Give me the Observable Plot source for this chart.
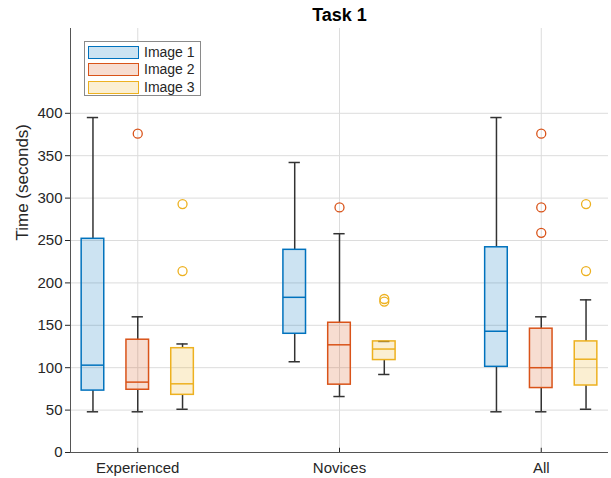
<!DOCTYPE html>
<html>
<head>
<meta charset="utf-8">
<script src="https://cdn.jsdelivr.net/npm/d3@7"></script>
<script src="https://cdn.jsdelivr.net/npm/@observablehq/plot@0.6"></script>
<style>
  html, body { margin: 0; padding: 0; background: #fff; }
  #wrap { position: relative; width: 611px; height: 478px; font-family: "Liberation Sans", Arial, sans-serif; }
  #legend { position: absolute; left: 84px; top: 41px; width: 117px; height: 55px; border: 1px solid #8a8a8a; background: #fff; box-sizing: border-box; }
  .row { position: absolute; left: 3px; height: 14px; }
  .sw { position: absolute; left: 0; top: 0; width: 49px; height: 11px; border: 1.5px solid; }
  .lb { position: absolute; left: 56px; top: -2px; font-size: 14px; color: #262626; white-space: nowrap; }
</style>
</head>
<body>
<div id="wrap"><div id="chart"></div><div id="legend"></div></div>
<script>
const groups = ["Experienced", "Novices", "All"];
const series = ["Image 1", "Image 2", "Image 3"];
const colors = ["#0072BD", "#D95319", "#EDB120"];
// values per series (rows) and group (columns)
const whiskerLow  = [[48, 107, 48], [48, 66, 48], [51, 92, 51]];
const q1          = [[73, 140, 101], [74, 80, 76], [68, 109, 79]];
const median      = [[103, 183, 143], [83, 127, 100], [81, 122, 110]];
const q3          = [[252, 239, 242], [133, 153, 146], [123, 131, 131]];
const whiskerHigh = [[395, 342, 395], [160, 258, 160], [128, 131, 180]];
const outliers    = [[[], [], []], [[376], [289], [376, 289, 259]], [[293, 214], [178, 181], [293, 214]]];
const yTicks = [0, 50, 100, 150, 200, 250, 300, 350, 400];

const offset = 0.222, halfBox = 0.056, halfCap = 0.028;
const boxes = [];
const outs = [];
series.forEach((s, si) => {
  groups.forEach((g, gi) => {
    const x = gi + 1 + (si - 1) * offset;
    boxes.push({s, x, lo: whiskerLow[si][gi], q1: q1[si][gi], med: median[si][gi], q3: q3[si][gi], hi: whiskerHigh[si][gi]});
    outliers[si][gi].forEach(v => outs.push({s, x, v}));
  });
});

const color = {domain: series, range: colors};
const axisCol = "#262626";

const chart = Plot.plot({
  width: 611,
  height: 478,
  marginTop: 28,
  marginBottom: 26,
  marginLeft: 70,
  marginRight: 3,
  style: {fontFamily: "Liberation Sans, Arial, sans-serif", fontSize: "15px", color: axisCol, background: "#fff"},
  x: {domain: [2 / 3, 10 / 3], axis: null},
  y: {domain: [0, 500], axis: null},
  color,
  marks: [
    Plot.ruleY(yTicks, {stroke: "#dcdcdc", strokeWidth: 1}),
    Plot.ruleX([1, 2, 3], {y1: 0, y2: 500, stroke: "#dcdcdc", strokeWidth: 1}),
    Plot.axisY({ticks: yTicks, tickSize: 5, tickPadding: 3, label: null, stroke: axisCol, fontSize: 15}),
    Plot.axisX({ticks: [1, 2, 3], tickFormat: d => groups[d - 1], tickSize: 0, tickPadding: 10, label: null, fontSize: 15}),
    Plot.ruleX([1, 2, 3], {y1: 0, y2: 5, stroke: axisCol, strokeWidth: 1}),
    Plot.ruleX([2 / 3], {y1: 0, y2: 500, stroke: "#555", strokeWidth: 1}),
    Plot.ruleY([0], {stroke: "#555", strokeWidth: 1}),
    Plot.ruleX(boxes, {x: "x", y1: "lo", y2: "q1", stroke: "#333", strokeWidth: 1.5}),
    Plot.ruleX(boxes, {x: "x", y1: "q3", y2: "hi", stroke: "#333", strokeWidth: 1.5}),
    Plot.ruleY(boxes, {y: "lo", x1: d => d.x - halfCap, x2: d => d.x + halfCap, stroke: "#333", strokeWidth: 1.5}),
    Plot.ruleY(boxes, {y: "hi", x1: d => d.x - halfCap, x2: d => d.x + halfCap, stroke: "#333", strokeWidth: 1.5}),
    Plot.rect(boxes, {x1: d => d.x - halfBox, x2: d => d.x + halfBox, y1: "q1", y2: "q3", fill: "s", fillOpacity: 0.2, stroke: "s", strokeWidth: 1.5}),
    Plot.ruleY(boxes, {y: "med", x1: d => d.x - halfBox, x2: d => d.x + halfBox, stroke: "s", strokeWidth: 1.5}),
    Plot.dot(outs, {x: "x", y: "v", r: 4.5, stroke: "s", fill: "none", strokeWidth: 1.3}),
    Plot.text(["Task 1"], {frameAnchor: "top", dy: -20, fontSize: 18, fontWeight: "bold", fill: "#000", lineAnchor: "top"}),
    Plot.text(["Time (seconds)"], {frameAnchor: "left", dx: -48, rotate: -90, fontSize: 17, fill: axisCol})
  ]
});
document.getElementById("chart").appendChild(chart);

const legend = document.getElementById("legend");
series.forEach((s, i) => {
  const row = document.createElement("div");
  row.className = "row";
  row.style.top = (4 + i * 17.3) + "px";
  const sw = document.createElement("div");
  sw.className = "sw";
  sw.style.borderColor = colors[i];
  sw.style.background = d3.color(colors[i]).copy({opacity: 0.2}).formatRgb();
  const lb = document.createElement("div");
  lb.className = "lb";
  lb.textContent = s;
  row.appendChild(sw); row.appendChild(lb);
  legend.appendChild(row);
});
</script>
</body>
</html>
